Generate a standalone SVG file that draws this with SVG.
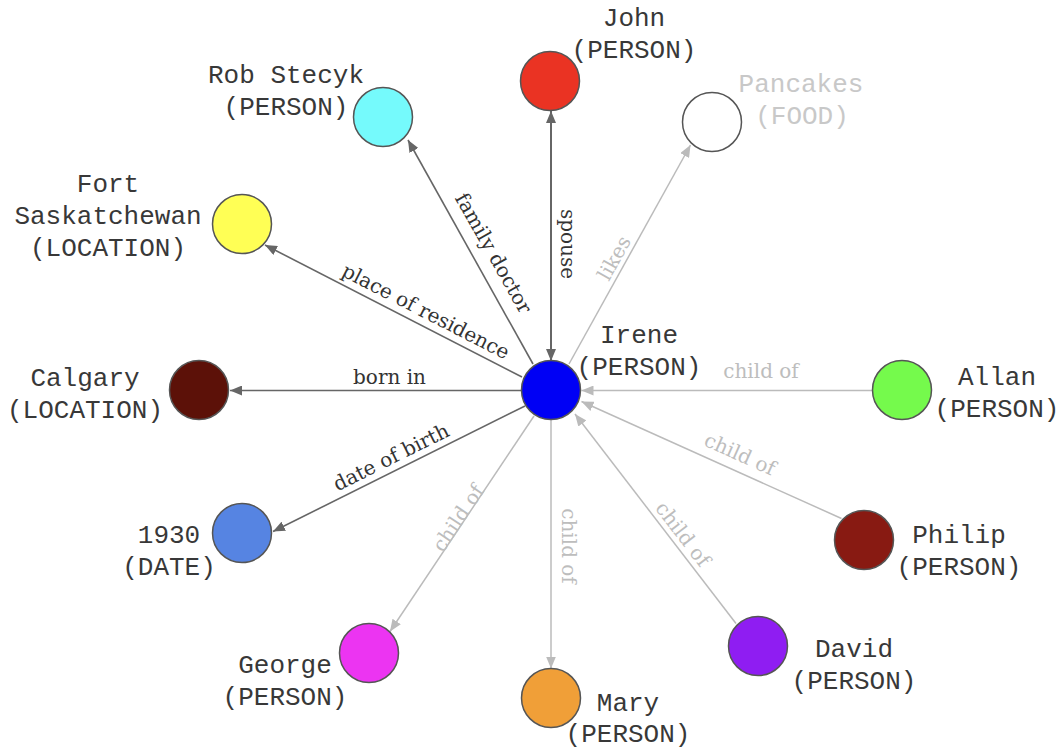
<svg xmlns="http://www.w3.org/2000/svg" width="1058" height="748" viewBox="0 0 1058 748">
<style>
.node{stroke:#555;stroke-width:1.5}
.nl{font-family:"Liberation Mono","Courier New",monospace;font-size:26px;fill:#383838;text-anchor:middle}
.nl.faint{fill:#c8c8c8}
.ed{stroke:#666;stroke-width:1.6;fill:none}
.el{stroke:#bbb;stroke-width:1.5;fill:none}
.lab{font-family:"DejaVu Serif","Liberation Serif",serif;font-size:20px;text-anchor:middle}
.lab.d{fill:#333}
.lab.l{fill:#bdbdbd}
</style>
<defs>
<marker id="ad" viewBox="0 0 12 10" refX="12" refY="5" markerWidth="12" markerHeight="10" markerUnits="userSpaceOnUse" orient="auto-start-reverse"><path d="M0,0L12,5L0,10z" fill="#666"/></marker>
<marker id="al" viewBox="0 0 12 10" refX="12" refY="5" markerWidth="12" markerHeight="10" markerUnits="userSpaceOnUse" orient="auto"><path d="M0,0L12,5L0,10z" fill="#bbb"/></marker>
</defs>
<rect width="1058" height="748" fill="#fff"/>
<g id="connectors">
<line class="ed" x1="551" y1="361" x2="551" y2="111" marker-start="url(#ad)" marker-end="url(#ad)" style="stroke-width:2"/>
<line class="ed" x1="533" y1="364" x2="408" y2="140" marker-end="url(#ad)"/>
<line class="ed" x1="522" y1="377" x2="265" y2="245" marker-end="url(#ad)"/>
<line class="ed" x1="521" y1="390.5" x2="230" y2="390.5" marker-end="url(#ad)"/>
<line class="ed" x1="525" y1="406" x2="273" y2="531.5" marker-end="url(#ad)"/>
<line class="el" x1="569" y1="364" x2="690.5" y2="145" marker-end="url(#al)"/>
<line class="el" x1="872" y1="390.5" x2="581.5" y2="390.5" marker-end="url(#al)"/>
<line class="el" x1="841.5" y1="518.5" x2="581.5" y2="401.5" marker-end="url(#al)"/>
<line class="el" x1="736" y1="623.5" x2="575" y2="414" marker-end="url(#al)"/>
<line class="el" x1="551" y1="420" x2="551" y2="668.5" marker-end="url(#al)"/>
<line class="el" x1="534" y1="416" x2="390" y2="631.5" marker-end="url(#al)"/>
<text class="lab d" transform="translate(564,244) rotate(90)" y="3">spouse</text>
<text class="lab d" transform="translate(492,254) rotate(60.5)" y="5">family doctor</text>
<text class="lab d" transform="translate(425,313) rotate(27.2)" y="5">place of residence</text>
<text class="lab d" x="389.5" y="384">born in</text>
<text class="lab d" transform="translate(391,457) rotate(-26.4)" y="7">date of birth</text>
<text class="lab l" transform="translate(614,258) rotate(-61)" y="7">likes</text>
<text class="lab l" x="761" y="378">child of</text>
<text class="lab l" transform="translate(740,454) rotate(24.2)" y="7">child of</text>
<text class="lab l" transform="translate(683,534) rotate(52.4)" y="7">child of</text>
<text class="lab l" transform="translate(569,546) rotate(90)" y="7">child of</text>
<text class="lab l" transform="translate(458,518) rotate(-56.3)" y="7">child of</text>
</g>
<g id="john"><circle class="node" cx="550" cy="81" r="29.5" fill="#EA3323"/><text class="nl" x="634" y="26">John<tspan x="634" dy="32">(PERSON)</tspan></text></g>
<g id="rob"><circle class="node" cx="383" cy="117" r="29.5" fill="#75FAFC"/><text class="nl" x="286" y="83">Rob Stecyk<tspan x="286" dy="32">(PERSON)</tspan></text></g>
<g id="pancakes"><circle class="node" cx="712" cy="122" r="29.5" fill="#fff"/><text class="nl faint" x="801" y="92">Pancakes<tspan x="802" dy="32">(FOOD)</tspan></text></g>
<g id="fort"><circle class="node" cx="242" cy="224" r="29.5" fill="#FFFF55"/><text class="nl" x="108" y="192">Fort<tspan x="108" dy="32">Saskatchewan</tspan><tspan x="108" dy="32">(LOCATION)</tspan></text></g>
<g id="calgary"><circle class="node" cx="199" cy="390" r="29.5" fill="#5C1108"/><text class="nl" x="85" y="386">Calgary<tspan x="85" dy="32">(LOCATION)</tspan></text></g>
<g id="irene"><circle class="node" cx="551" cy="390" r="29.5" fill="#0000F5"/><text class="nl" x="639" y="343">Irene<tspan x="639" dy="32">(PERSON)</tspan></text></g>
<g id="allan"><circle class="node" cx="902" cy="390" r="29.5" fill="#75FA4C"/><text class="nl" x="997" y="385">Allan<tspan x="997" dy="32">(PERSON)</tspan></text></g>
<g id="d1930"><circle class="node" cx="242" cy="533" r="29.5" fill="#5684E2"/><text class="nl" x="169" y="543">1930<tspan x="169" dy="32">(DATE)</tspan></text></g>
<g id="philip"><circle class="node" cx="864" cy="540" r="29.5" fill="#881A12"/><text class="nl" x="959" y="543">Philip<tspan x="959" dy="32">(PERSON)</tspan></text></g>
<g id="george"><circle class="node" cx="369" cy="653" r="29.5" fill="#EC34F2"/><text class="nl" x="285" y="673">George<tspan x="285" dy="32">(PERSON)</tspan></text></g>
<g id="mary"><circle class="node" cx="551" cy="698" r="29.5" fill="#F09F38"/><text class="nl" x="628" y="711">Mary<tspan x="628" dy="31">(PERSON)</tspan></text></g>
<g id="david"><circle class="node" cx="758" cy="646" r="29.5" fill="#8F1DF2"/><text class="nl" x="854" y="657">David<tspan x="854" dy="32">(PERSON)</tspan></text></g>
</svg>
